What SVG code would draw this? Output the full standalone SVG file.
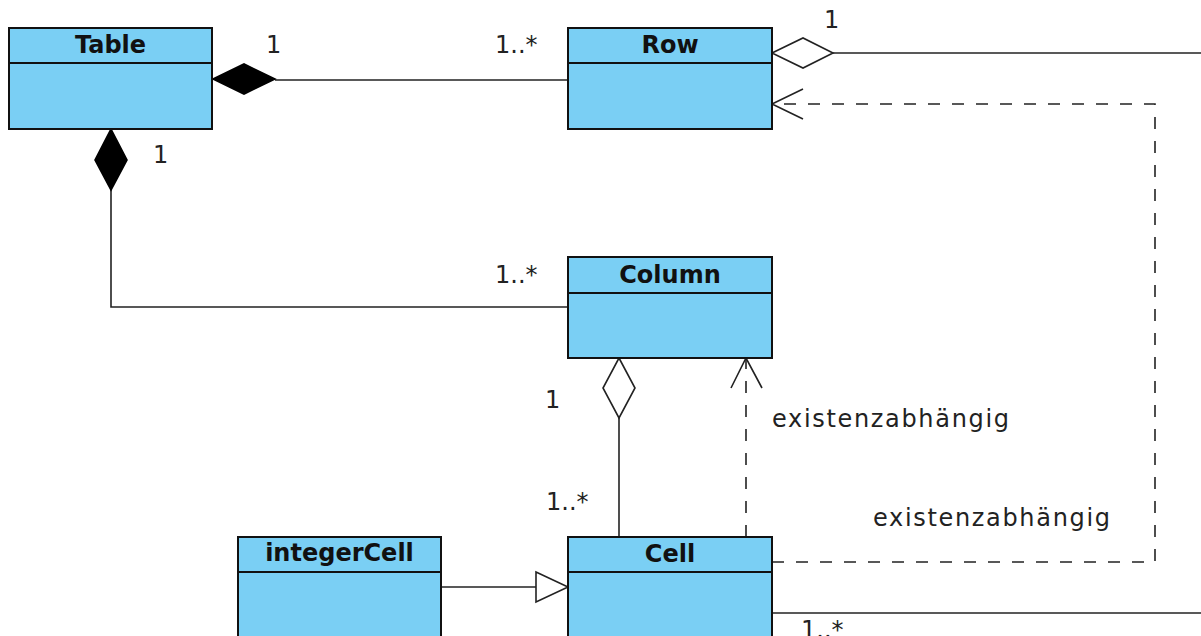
<svg xmlns="http://www.w3.org/2000/svg" width="1201" height="636" viewBox="0 0 1201 636">
<style>
.box{fill:#7acff4;stroke:#111;stroke-width:2}
.div{stroke:#111;stroke-width:2}
.title{font-family:"DejaVu Sans","Liberation Sans",sans-serif;font-weight:bold;font-size:24px;fill:#111;text-anchor:middle}
.lbl{font-family:"DejaVu Sans","Liberation Sans",sans-serif;font-size:24px;fill:#222}
.ln{fill:none;stroke:#222;stroke-width:1.6}
.dash{fill:none;stroke:#222;stroke-width:1.6;stroke-dasharray:12 12}
.fd{fill:#000;stroke:#000;stroke-width:1.6}
.od{fill:#fff;stroke:#222;stroke-width:1.6}
</style>
<rect width="1201" height="636" fill="#fff"/>
<g id="connectors">
<line class="ln" x1="275" y1="80" x2="568" y2="80"/>
<polygon class="fd" points="213,79 244,64 275,79 244,94"/>
<polyline class="ln" points="111,190 111,307 568,307"/>
<polygon class="fd" points="111,129 127,160 111,190 95,160"/>
<line class="ln" x1="833" y1="53" x2="1201" y2="53"/>
<polygon class="od" points="772,53 803,38 833,53 803,68"/>
<line class="ln" x1="619" y1="418" x2="619" y2="537"/>
<polygon class="od" points="619,358 635,388 619,418 603,388"/>
<line class="dash" x1="746" y1="537" x2="746" y2="360"/>
<polyline class="ln" points="731,388 746,358 762,388"/>
<polyline class="dash" points="772,562 1155,562 1155,104 774,104"/>
<polyline class="ln" points="803,89 772,104 803,119"/>
<line class="ln" x1="441" y1="587" x2="536" y2="587"/>
<polygon class="od" points="536,572 568,587 536,602"/>
<line class="ln" x1="772" y1="613" x2="1201" y2="613"/>
<text class="lbl" x="266" y="53">1</text>
<text class="lbl" x="495" y="53">1..*</text>
<text class="lbl" x="153" y="163">1</text>
<text class="lbl" x="824" y="28">1</text>
<text class="lbl" x="495" y="283">1..*</text>
<text class="lbl" x="545" y="408">1</text>
<text class="lbl" x="546" y="510">1..*</text>
<text class="lbl" x="801" y="638">1..*</text>
<text class="lbl" x="772" y="427" textLength="237" lengthAdjust="spacing">existenzabhängig</text>
<text class="lbl" x="873" y="526" textLength="237" lengthAdjust="spacing">existenzabhängig</text>
</g>
<g id="node-table">
<rect class="box" x="9" y="28" width="203" height="101"/>
<line class="div" x1="9" y1="63" x2="212" y2="63"/>
<text class="title" x="110.5" y="53">Table</text>
</g>
<g id="node-row">
<rect class="box" x="568" y="28" width="204" height="101"/>
<line class="div" x1="568" y1="63" x2="772" y2="63"/>
<text class="title" x="670" y="53">Row</text>
</g>
<g id="node-column">
<rect class="box" x="568" y="257" width="204" height="101"/>
<line class="div" x1="568" y1="293" x2="772" y2="293"/>
<text class="title" x="670" y="283">Column</text>
</g>
<g id="node-cell">
<rect class="box" x="568" y="537" width="204" height="130"/>
<line class="div" x1="568" y1="572" x2="772" y2="572"/>
<text class="title" x="670" y="562">Cell</text>
</g>
<g id="node-integercell">
<rect class="box" x="238" y="537" width="203" height="130"/>
<line class="div" x1="238" y1="572" x2="441" y2="572"/>
<text class="title" x="339.5" y="561">integerCell</text>
</g>
</svg>
